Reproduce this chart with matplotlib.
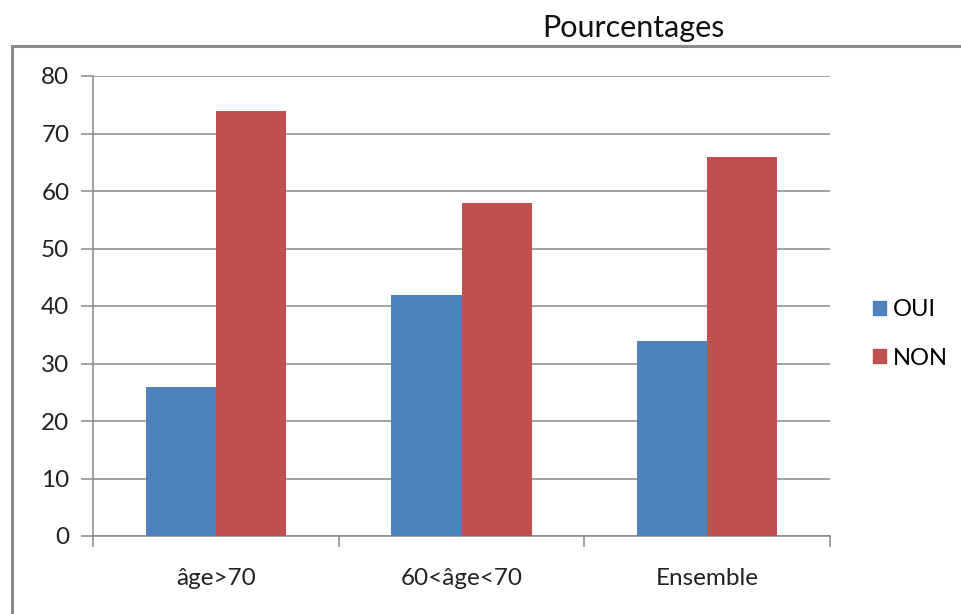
import numpy as np
import matplotlib.pyplot as plt
from matplotlib.patches import Rectangle, Patch

plt.rcParams['font.family'] = ['Lato', 'DejaVu Sans']

categories = ['âge>70', '60<âge<70', 'Ensemble']
oui = [26, 42, 34]
non = [74, 58, 66]
yticks = [0, 10, 20, 30, 40, 50, 60, 70, 80]

blue = '#4F81BD'
red = '#C0504D'
grey = '#898989'

fig = plt.figure(figsize=(9.61, 6.14), dpi=100)

# outer chart frame, open at the right and bottom
fig.patches.append(Rectangle((12 / 961, -0.05), 1.0, 0.05 + 1 - 46 / 614,
                             transform=fig.transFigure, fill=False,
                             edgecolor='#8a8a8a', lw=2.2))

ax = fig.add_axes([93 / 961, 78 / 614, 737 / 961, 460 / 614])

x = np.arange(len(categories))
w = 0.285
ax.bar(x - w / 2, oui, w, color=blue, label='OUI', zorder=3)
ax.bar(x + w / 2, non, w, color=red, label='NON', zorder=3)

ax.set_xlim(-0.5, len(categories) - 0.5)
ax.set_ylim(0, 80)
ax.set_yticks(yticks)
ax.yaxis.grid(True, color=grey, lw=1.1, zorder=0)

# category labels centred, ticks on the group boundaries
ax.set_xticks(x)
ax.set_xticklabels(categories)
ax.set_xticks(np.arange(len(categories) + 1) - 0.5, minor=True)
ax.tick_params(axis='x', which='major', length=0, pad=23, labelsize=17.5, labelcolor='#222222')
ax.tick_params(axis='x', which='minor', length=8, width=1.1, color=grey)
ax.tick_params(axis='y', length=9, width=1.1, color=grey, pad=8, labelsize=17.5, labelcolor='#222222')

for s in ['top', 'right']:
    ax.spines[s].set_visible(False)
for s in ['left', 'bottom']:
    ax.spines[s].set_color(grey)
    ax.spines[s].set_linewidth(1.1)

fig.text(633 / 961, 1 - 28 / 614, 'Pourcentages', ha='center', va='center',
         fontsize=22, color='#111111')

handles = [Patch(color=blue, label='OUI'), Patch(color=red, label='NON')]
fig.legend(handles=handles, loc='center left', bbox_to_anchor=(873 / 961, 1 - 334 / 614),
           frameon=False, borderpad=0, borderaxespad=0, handlelength=0.55,
           handleheight=0.55, handletextpad=0.3, labelspacing=1.15, fontsize=17)

fig.savefig('out.png', dpi=100)
